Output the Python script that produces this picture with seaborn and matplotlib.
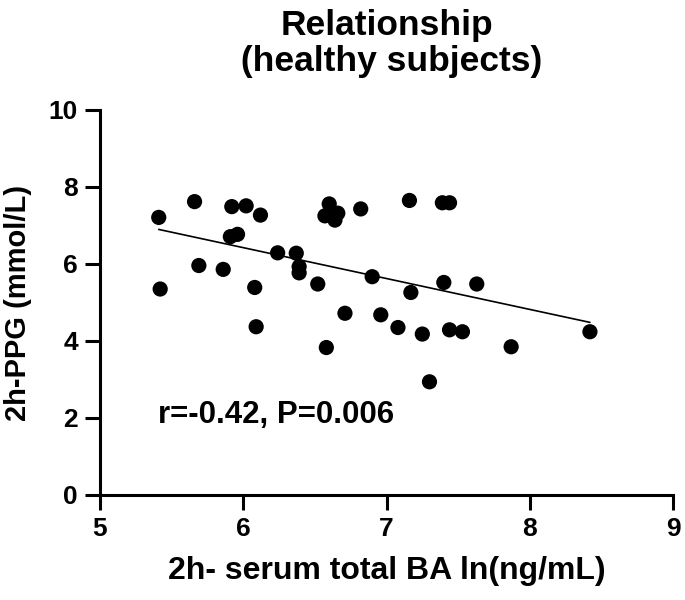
import numpy as np
import matplotlib
matplotlib.use("Agg")
import matplotlib.pyplot as plt
import seaborn as sns

# values (healthy subjects)
ba_ln = [5.41, 5.66, 5.92, 6.02, 6.12, 5.91, 5.96, 5.69, 5.86, 5.42,
         6.08, 6.09, 6.24, 6.37, 6.39, 6.39, 6.52, 6.60, 6.57, 6.66,
         6.64, 6.82, 6.90, 6.71, 6.58, 6.96, 7.08, 7.16, 7.39, 7.44,
         7.40, 7.63, 7.17, 7.25, 7.44, 7.53, 7.87, 8.42, 7.30]
ppg = [7.21, 7.62, 7.49, 7.51, 7.27, 6.71, 6.77, 5.96, 5.86, 5.35,
       5.39, 4.37, 6.29, 6.28, 5.93, 5.77, 5.48, 7.56, 7.25, 7.32,
       7.14, 7.43, 5.67, 4.72, 3.83, 4.68, 4.35, 7.65, 7.59, 7.59,
       5.52, 5.48, 5.26, 4.18, 4.29, 4.24, 3.85, 4.24, 2.94]

x_ticks = [5, 6, 7, 8, 9]
y_ticks = [0, 2, 4, 6, 8, 10]

sns.set_style("ticks")
plt.rcParams.update({
    "font.family": ["Liberation Sans", "DejaVu Sans"],
    "font.weight": "bold",
    "axes.labelweight": "bold",
    "axes.titleweight": "bold",
    "text.color": "black",
    "axes.labelcolor": "black",
    "xtick.color": "black",
    "ytick.color": "black",
})

fig = plt.figure(figsize=(6.85, 6.0), dpi=100)
ax = fig.add_axes([0.146, 0.175, 0.8365, 0.6417])

sns.regplot(
    x=np.array(ba_ln), y=np.array(ppg), ax=ax, ci=None,
    scatter_kws=dict(s=120, color="black", edgecolor="none", alpha=1),
    line_kws=dict(color="black", lw=1.2),
)

ax.set_xlim(5, 9)
ax.set_ylim(0, 10)
ax.set_xticks(x_ticks)
ax.set_yticks(y_ticks)
ax.tick_params(axis="both", length=11, width=2.2, pad=5, labelsize=19,
               color="black", labelcolor="black")
for lab in ax.get_xticklabels() + ax.get_yticklabels():
    lab.set_fontweight("bold")

sns.despine(ax=ax)
for side in ["left", "bottom"]:
    ax.spines[side].set_linewidth(2.2)
    ax.spines[side].set_color("black")

ax.set_xlabel("2h- serum total BA ln(ng/mL)", fontsize=23, labelpad=11)
ax.set_ylabel("2h-PPG (mmol/L)", fontsize=21, labelpad=12)
ax.set_title("Relationship\n (healthy subjects)", fontsize=25.5, pad=28,
             linespacing=1.1, color="black")

ax.text(5.405, 1.87, "r=-0.42, P=0.006", fontsize=22.5, fontweight="bold",
        ha="left", va="baseline", color="black")

fig.savefig("out.png", dpi=100)
